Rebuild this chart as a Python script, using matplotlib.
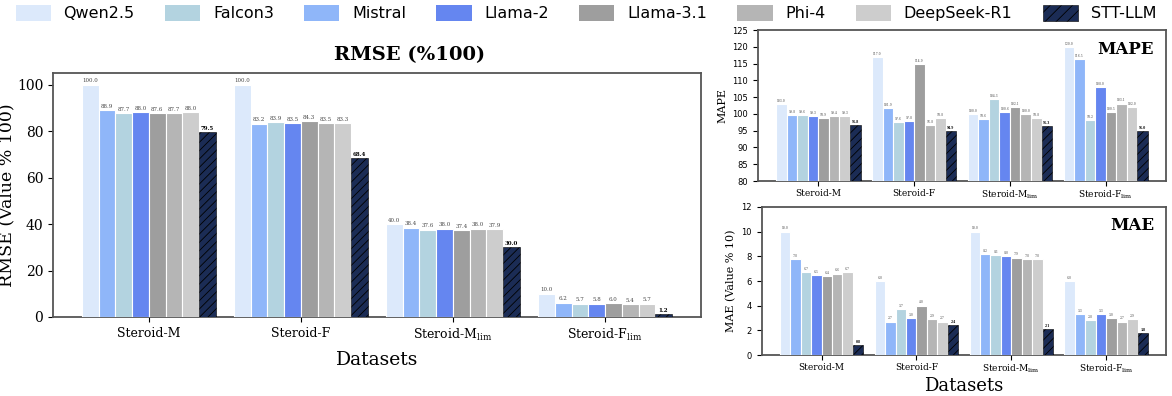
import numpy as np
import matplotlib
matplotlib.use("Agg")
import matplotlib.pyplot as plt
from matplotlib.patches import Patch

plt.rcParams['mathtext.fontset'] = 'dejavuserif'

# порядок столбцов внутри группы
models = ["Qwen2.5", "Mistral", "Falcon3", "Llama-2", "Llama-3.1", "Phi-4", "DeepSeek-R1", "STT-LLM"]
colors = ["#dce9fb", "#8fb6f9", "#b3d3e0", "#6586f0", "#9e9e9e", "#b5b5b5", "#cdcdcd", "#1b2c55"]
# порядок в легенде
legend_order = ["Qwen2.5", "Falcon3", "Mistral", "Llama-2", "Llama-3.1", "Phi-4", "DeepSeek-R1", "STT-LLM"]

datasets = ["Steroid-M", "Steroid-F", r"Steroid-M$_{\rm lim}$", r"Steroid-F$_{\rm lim}$"]

# значения: строки = датасеты, столбцы = модели (в порядке models)
rmse = [
    [100.0, 88.9, 87.7, 88.0, 87.6, 87.7, 88.0, 79.5],
    [100.0, 83.2, 83.9, 83.5, 84.3, 83.5, 83.3, 68.4],
    [40.0, 38.4, 37.6, 38.0, 37.4, 38.0, 37.9, 30.0],
    [10.0, 6.2, 5.7, 5.8, 6.0, 5.4, 5.7, 1.2],
]
mape = [
    [103.0, 99.8, 99.6, 99.3, 98.9, 99.4, 99.3, 96.8],
    [117.0, 101.9, 97.6, 97.8, 114.9, 96.8, 98.8, 94.9],
    [100.0, 98.6, 104.3, 100.6, 102.1, 100.0, 98.8, 96.3],
    [120.0, 116.5, 98.2, 108.0, 100.5, 103.1, 102.0, 95.0],
]
mae = [
    [10.0, 7.8, 6.7, 6.5, 6.4, 6.6, 6.7, 0.8],
    [6.0, 2.7, 3.7, 3.0, 4.0, 2.9, 2.7, 2.4],
    [10.0, 8.2, 8.1, 8.0, 7.9, 7.8, 7.8, 2.1],
    [6.0, 3.3, 2.8, 3.3, 3.0, 2.7, 2.9, 1.8],
]

BAR_W = 0.11


def draw_bars(ax, data, base, label_size, text_pad):
    data = np.array(data)
    x = np.arange(len(datasets))
    for j, name in enumerate(models):
        offs = (j - 3.5) * BAR_W
        vals = data[:, j]
        is_stt = name == "STT-LLM"
        bars = ax.bar(x + offs, vals - base, BAR_W, bottom=base, color=colors[j],
                      edgecolor="white" if not is_stt else "black",
                      linewidth=0.8 if not is_stt else 0.4,
                      hatch="////" if is_stt else None, zorder=3)
        for b, v in zip(bars, vals):
            ax.text(b.get_x() + b.get_width() / 2, v + text_pad, f"{v:.1f}",
                    ha="center", va="bottom", fontsize=label_size, family="DejaVu Serif",
                    fontweight="bold" if is_stt else "normal",
                    color="black" if is_stt else "#444444")
    ax.set_xticks(x)
    ax.set_xticklabels(datasets, family="DejaVu Serif")
    ax.set_xlim(-0.63, 3.63)
    for s in ax.spines.values():
        s.set_color("#555555")
        s.set_linewidth(1.3)


plt.rcParams['hatch.color'] = 'black'
plt.rcParams['hatch.linewidth'] = 0.6

fig = plt.figure(figsize=(11.72, 3.96), dpi=100)

# RMSE
ax1 = fig.add_axes([0.0452, 0.1995, 0.5528, 0.6162])
draw_bars(ax1, rmse, 0, 4, 0.6)
ax1.set_ylim(0, 105)
ax1.set_yticks([0, 20, 40, 60, 80, 100])
ax1.tick_params(axis="y", labelsize=10)
ax1.tick_params(axis="x", labelsize=9)
for t in ax1.get_yticklabels():
    t.set_family("DejaVu Serif")
ax1.set_ylabel("RMSE (Value % 100)", family="DejaVu Serif", fontsize=12.5)
ax1.yaxis.set_label_coords(-0.058, 0.5)
ax1.set_xlabel("Datasets", family="DejaVu Serif", fontsize=13.5, labelpad=6)
ax1.set_title("RMSE (%100)", family="DejaVu Serif", fontweight="bold", fontsize=14,
              x=0.551, pad=9)

# MAPE
ax2 = fig.add_axes([0.6468, 0.5429, 0.3481, 0.3813])
draw_bars(ax2, mape, 80, 2.2, 0.3)
ax2.set_ylim(80, 125)
ax2.set_yticks(np.arange(80, 126, 5))
ax2.tick_params(axis="y", labelsize=6)
ax2.tick_params(axis="x", labelsize=6.5, pad=2)
ax2.set_ylabel("MAPE", family="DejaVu Serif", fontsize=8)
ax2.text(0.97, 0.93, "MAPE", transform=ax2.transAxes, ha="right", va="top",
         family="DejaVu Serif", fontweight="bold", fontsize=12)

# MAE
ax3 = fig.add_axes([0.650, 0.1035, 0.3449, 0.3738])
draw_bars(ax3, mae, 0, 2.2, 0.1)
ax3.set_ylim(0, 12)
ax3.set_yticks(np.arange(0, 13, 2))
ax3.tick_params(axis="y", labelsize=6)
ax3.tick_params(axis="x", labelsize=6.5, pad=2)
ax3.set_ylabel("MAE (Value % 10)", family="DejaVu Serif", fontsize=8)
ax3.set_xlabel("Datasets", family="DejaVu Serif", fontsize=13, labelpad=1)
ax3.text(0.97, 0.93, "MAE", transform=ax3.transAxes, ha="right", va="top",
         family="DejaVu Serif", fontweight="bold", fontsize=12)

# легенда
handles = []
for name in legend_order:
    c = colors[models.index(name)]
    if name == "STT-LLM":
        handles.append(Patch(facecolor=c, edgecolor="black", hatch="///", linewidth=0.4, label=name))
    else:
        handles.append(Patch(facecolor=c, edgecolor="none", label=name))
fig.legend(handles=handles, loc="upper center", bbox_to_anchor=(0.5, 1.0), ncol=8,
           frameon=False, fontsize=11.5, handlelength=2.2, handleheight=1.2,
           columnspacing=1.9, handletextpad=0.8, borderaxespad=0.1, borderpad=0.2)

fig.savefig("out.png", dpi=100)
